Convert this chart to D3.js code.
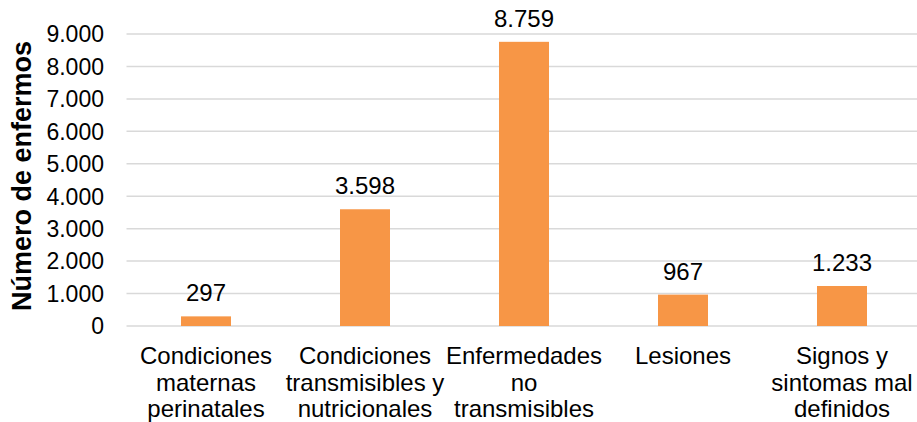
<!DOCTYPE html>
<html>
<head>
<meta charset="utf-8">
<script src="https://cdn.jsdelivr.net/npm/d3@7"></script>
<style>
  html, body { margin: 0; padding: 0; background: #fff; }
  svg { display: block; }
  text { font-family: "Liberation Sans", Arial, sans-serif; fill: #000; }
</style>
</head>
<body>
<svg id="chart" width="917" height="422"></svg>
<script>
const categories = [
  ["Condiciones", "maternas", "perinatales"],
  ["Condiciones", "transmisibles y", "nutricionales"],
  ["Enfermedades", "no", "transmisibles"],
  ["Lesiones"],
  ["Signos y", "sintomas mal", "definidos"]
];
const values = [297, 3598, 8759, 967, 1233];
const valueLabels = ["297", "3.598", "8.759", "967", "1.233"];
const yTicks = [0, 1000, 2000, 3000, 4000, 5000, 6000, 7000, 8000, 9000];
const yTickLabels = ["0", "1.000", "2.000", "3.000", "4.000", "5.000", "6.000", "7.000", "8.000", "9.000"];
const yTitle = "Número de enfermos";

const svg = d3.select("#chart");
const mLeft = 126.5, mRight = 921.5, mTop = 34, mBottom = 326;

const x = d3.scaleBand().domain(d3.range(categories.length)).range([mLeft, mRight]);
const y = d3.scaleLinear().domain([0, 9000]).range([mBottom, mTop]);
const barW = 50;

// gridlines
svg.append("g").selectAll("line").data(yTicks).join("line")
  .attr("x1", mLeft).attr("x2", mRight)
  .attr("y1", d => y(d)).attr("y2", d => y(d))
  .attr("stroke", "#d9d9d9").attr("stroke-width", 1.5);

// y tick labels
svg.append("g").selectAll("text").data(yTicks).join("text")
  .attr("x", 104).attr("y", d => y(d))
  .attr("dy", "0.36em")
  .attr("text-anchor", "end")
  .style("font-size", "23px")
  .text((d, i) => yTickLabels[i]);

// bars
svg.append("g").selectAll("rect").data(values).join("rect")
  .attr("x", (d, i) => x(i) + x.bandwidth() / 2 - barW / 2)
  .attr("width", barW)
  .attr("y", d => y(d))
  .attr("height", d => y(0) - y(d))
  .attr("fill", "#F79646");

// value labels
svg.append("g").selectAll("text").data(values).join("text")
  .attr("x", (d, i) => x(i) + x.bandwidth() / 2)
  .attr("y", d => y(d) - 15)
  .attr("text-anchor", "middle")
  .style("font-size", "24px")
  .text((d, i) => valueLabels[i]);

// category labels
const cat = svg.append("g").selectAll("text").data(categories).join("text")
  .attr("x", (d, i) => x(i) + x.bandwidth() / 2)
  .attr("y", 364)
  .attr("text-anchor", "middle")
  .style("font-size", "24px");
cat.selectAll("tspan").data(d => d).join("tspan")
  .attr("x", function() { return d3.select(this.parentNode).attr("x"); })
  .attr("dy", (d, i) => i === 0 ? 0 : 26.5)
  .text(d => d);

// y title
svg.append("text")
  .attr("transform", "translate(22,176) rotate(-90)")
  .attr("text-anchor", "middle")
  .attr("dy", "0.35em")
  .style("font-size", "27px")
  .style("font-weight", "bold")
  .text(yTitle);
</script>
</body>
</html>
